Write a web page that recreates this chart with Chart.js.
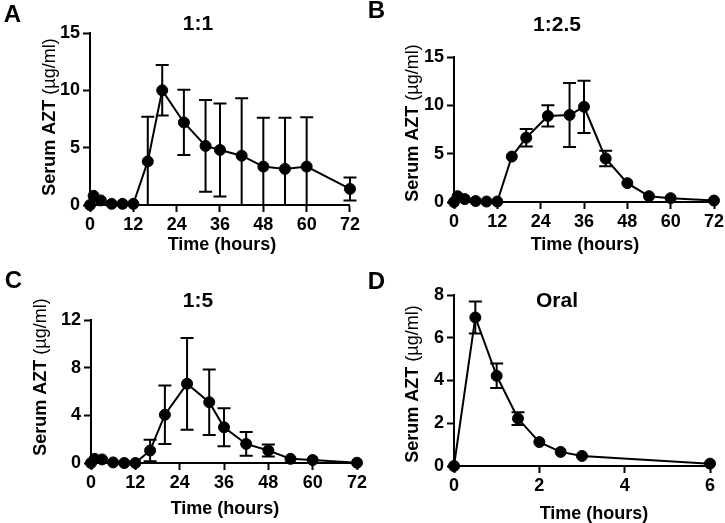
<!DOCTYPE html>
<html>
<head>
<meta charset="utf-8">
<script src="https://cdn.jsdelivr.net/npm/chart.js@4.4.0/dist/chart.umd.min.js"></script>
<style>
  html, body { margin: 0; padding: 0; background: #fff; }
  body { width: 725px; height: 523px; position: relative; overflow: hidden; }
  canvas { position: absolute; }
</style>
</head>
<body>
<canvas id="chartA" width="362" height="262" style="left:0;top:0"></canvas>
<canvas id="chartB" width="380" height="262" style="left:362px;top:0"></canvas>
<canvas id="chartC" width="380" height="261" style="left:0;top:262px"></canvas>
<canvas id="chartD" width="363" height="261" style="left:362px;top:262px"></canvas>
<script>
// datos (media y desviación)
const timesHours = [0, 1, 3, 6, 9, 12, 16, 20, 26, 32, 36, 42, 48, 54, 60, 72];

const meanA = [0, 0.8, 0.4, 0.1, 0.1, 0.1, 3.8, 10.0, 7.2, 5.15, 4.8, 4.3, 3.35, 3.15, 3.35, 1.4];
const sdA   = [0, 0, 0, 0, 0, 0, 3.9, 2.2, 2.85, 4.0, 4.05, 5.0, 4.25, 4.45, 4.3, 1.0];

const meanB = [0, 0.6, 0.3, 0.1, 0.05, 0.05, 4.7, 6.65, 8.9, 9.0, 9.85, 4.5, 1.95, 0.6, 0.4, 0.15];
const sdB   = [0, 0, 0, 0, 0, 0, 0, 0.9, 1.1, 3.3, 2.7, 0.8, 0, 0, 0, 0];

const meanC = [0, 0.35, 0.3, 0.05, 0, 0, 1.05, 4.05, 6.65, 5.1, 3.0, 1.6, 1.05, 0.35, 0.25, 0.02];
const sdC   = [0, 0, 0, 0, 0, 0, 0.9, 2.45, 3.85, 2.75, 1.6, 1.0, 0.5, 0, 0, 0];

const timesOral = [0, 0.5, 1, 1.5, 2, 2.5, 3, 6];
const meanD = [0, 6.95, 4.22, 2.22, 1.12, 0.66, 0.47, 0.11];
const sdD   = [0, 0.75, 0.57, 0.3, 0, 0, 0, 0];

// ticks
const xTicksHours = [0, 12, 24, 36, 48, 60, 72];
const xTicksOral = [0, 2, 4, 6];
const yTicks15 = [0, 5, 10, 15];
const yTicks12 = [0, 4, 8, 12];
const yTicks8 = [0, 2, 4, 6, 8];

const FONT = "'Liberation Sans', Arial, Helvetica, sans-serif";

// barras de error (media ± DE), recortadas en el eje
const errorBars = {
  id: 'errorBars',
  beforeDatasetsDraw(chart, args, opts) {
    const sd = opts.sd || [];
    const xs = chart.scales.x, ys = chart.scales.y;
    const ctx = chart.ctx;
    const cap = 6.5;
    ctx.save();
    ctx.strokeStyle = '#000';
    ctx.lineWidth = 2;
    chart.data.datasets[0].data.forEach((p, i) => {
      const s = sd[i];
      if (!s) return;
      const px = xs.getPixelForValue(p.x);
      const top = ys.getPixelForValue(p.y + s);
      const low = p.y - s;
      const bot = ys.getPixelForValue(Math.max(low, ys.min));
      ctx.beginPath();
      ctx.moveTo(px, top); ctx.lineTo(px, bot);
      ctx.moveTo(px - cap, top); ctx.lineTo(px + cap, top);
      if (low >= ys.min) { ctx.moveTo(px - cap, bot); ctx.lineTo(px + cap, bot); }
      ctx.stroke();
    });
    ctx.restore();
  }
};

// letra del panel, título y títulos de ejes
const panelText = {
  id: 'panelText',
  afterDraw(chart, args, o) {
    const ctx = chart.ctx;
    ctx.save();
    ctx.fillStyle = '#000';
    ctx.textAlign = 'center';
    ctx.textBaseline = 'middle';
    ctx.font = 'bold 24px ' + FONT;
    ctx.fillText(o.letter, o.letterX, o.letterY);
    ctx.font = 'bold 21px ' + FONT;
    ctx.fillText(o.title, o.titleX, o.titleY);
    ctx.textBaseline = 'alphabetic';
    ctx.font = 'bold 18px ' + FONT;
    ctx.fillText('Time (hours)', o.xTitleX, o.xTitleY);

    // eje Y rotado: "Serum AZT" en negrita, unidades normal
    const partA = 'Serum AZT ';
    const partB = '(µg/ml)';
    ctx.translate(o.yTitleX, o.yTitleY);
    ctx.rotate(-Math.PI / 2);
    ctx.textAlign = 'left';
    ctx.font = 'bold 18px ' + FONT;
    const wA = ctx.measureText(partA).width;
    ctx.font = '18px ' + FONT;
    const wB = ctx.measureText(partB).width;
    const start = -(wA + wB) / 2;
    ctx.font = 'bold 18px ' + FONT;
    ctx.fillText(partA, start, 0);
    ctx.font = '18px ' + FONT;
    ctx.fillText(partB, start + wA, 0);
    ctx.restore();
  }
};

function makePanel(id, times, mean, sd, cfg) {
  const ctx = document.getElementById(id).getContext('2d');
  const points = times.map((t, i) => ({ x: t, y: mean[i] }));
  const axisCommon = {
    type: 'linear',
    border: { display: true, color: '#000', width: 2 },
    grid: { display: true, drawOnChartArea: false, drawTicks: true, tickLength: 7, tickWidth: 2, tickColor: '#000' },
  };
  return new Chart(ctx, {
    type: 'line',
    data: {
      datasets: [{
        data: points,
        borderColor: '#000',
        backgroundColor: '#000',
        borderWidth: 2,
        pointRadius: 5.5,
        pointBorderWidth: 1,
        pointBackgroundColor: '#000',
        pointBorderColor: '#000',
        tension: 0,
        clip: false
      }]
    },
    options: {
      responsive: false,
      devicePixelRatio: 1,
      animation: false,
      events: [],
      layout: { padding: cfg.padding },
      plugins: {
        legend: { display: false },
        tooltip: { enabled: false },
        errorBars: { sd: sd },
        panelText: cfg.text
      },
      scales: {
        x: Object.assign({}, axisCommon, {
          min: cfg.xTicks[0],
          max: cfg.xTicks[cfg.xTicks.length - 1],
          afterBuildTicks: s => { s.ticks = cfg.xTicks.map(v => ({ value: v })); },
          afterFit: s => { s.height = cfg.xHeight; },
          ticks: { color: '#000', padding: 2, maxRotation: 0, autoSkip: false, font: { family: FONT, size: 18, weight: 'bold' } }
        }),
        y: Object.assign({}, axisCommon, {
          min: cfg.yTicks[0],
          max: cfg.yTicks[cfg.yTicks.length - 1],
          afterBuildTicks: s => { s.ticks = cfg.yTicks.map(v => ({ value: v })); },
          afterFit: s => { s.width = cfg.yWidth; },
          ticks: { color: '#000', padding: 3, autoSkip: false, font: { family: FONT, size: 18, weight: 'bold' } }
        })
      }
    },
    plugins: [errorBars, panelText]
  });
}

makePanel('chartA', timesHours, meanA, sdA, {
  padding: { left: 0, top: 33, right: 12, bottom: 0 },
  yWidth: 90, xHeight: 57,
  xTicks: xTicksHours, yTicks: yTicks15,
  text: { letter: 'A', letterX: 12.5, letterY: 15, title: '1:1', titleX: 198, titleY: 24,
          yTitleX: 55, yTitleY: 117, xTitleX: 222, xTitleY: 250 }
});

makePanel('chartB', timesHours, meanB, sdB, {
  padding: { left: 0, top: 57, right: 28, bottom: 0 },
  yWidth: 92, xHeight: 60,
  xTicks: xTicksHours, yTicks: yTicks15,
  text: { letter: 'B', letterX: 14.5, letterY: 11, title: '1:2.5', titleX: 195, titleY: 25,
          yTitleX: 56, yTitleY: 123, xTitleX: 223, xTitleY: 250 }
});

makePanel('chartC', timesHours, meanC, sdC, {
  padding: { left: 0, top: 58, right: 23, bottom: 0 },
  yWidth: 91, xHeight: 60,
  xTicks: xTicksHours, yTicks: yTicks12,
  text: { letter: 'C', letterX: 13.5, letterY: 19.5, title: '1:5', titleX: 198, titleY: 39.5,
          yTitleX: 46, yTitleY: 115, xTitleX: 225, xTitleY: 252 }
});

makePanel('chartD', timesOral, meanD, sdD, {
  padding: { left: 0, top: 33, right: 15, bottom: 0 },
  yWidth: 92, xHeight: 57,
  xTicks: xTicksOral, yTicks: yTicks8,
  text: { letter: 'D', letterX: 14.5, letterY: 20, title: 'Oral', titleX: 195, titleY: 39,
          yTitleX: 56, yTitleY: 122, xTitleX: 232, xTitleY: 257 }
});
</script>
</body>
</html>
